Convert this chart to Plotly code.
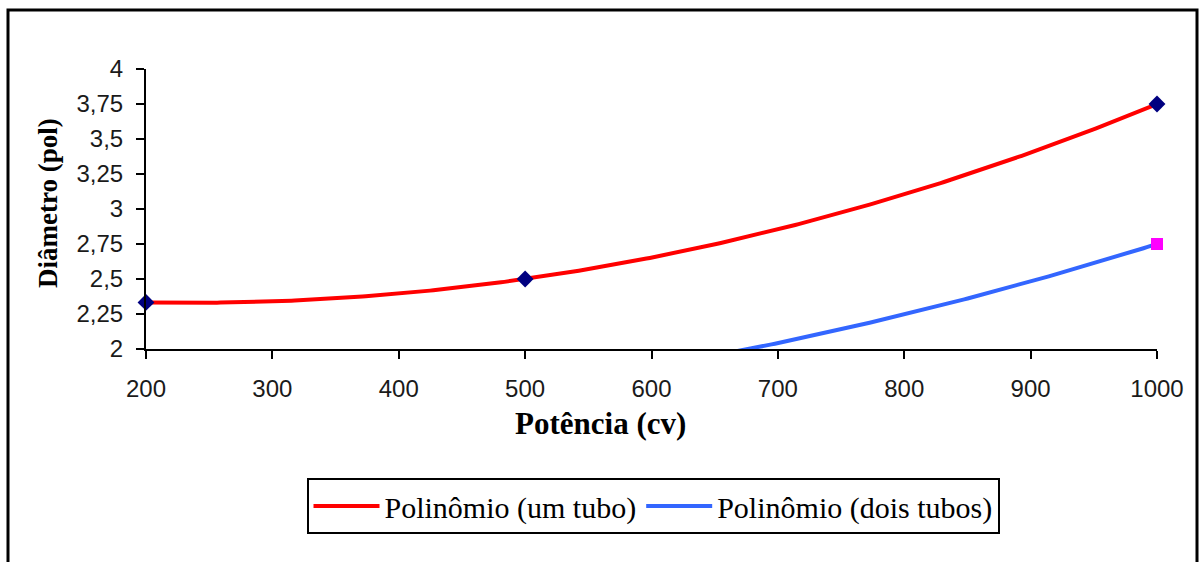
import numpy as np
import plotly.graph_objects as go

# --- data ---
potencia = [200, 500, 1000]
diam_um_tubo = [2.333, 2.5, 3.75]
diam_dois_tubos = [1.5, 1.73, 2.75]

x_ticks = [200, 300, 400, 500, 600, 700, 800, 900, 1000]
x_ticktext = ["200", "300", "400", "500", "600", "700", "800", "900", "1000"]
y_ticks = [2, 2.25, 2.5, 2.75, 3, 3.25, 3.5, 3.75, 4]
y_ticktext = ["2", "2,25", "2,5", "2,75", "3", "3,25", "3,5", "3,75", "4"]
y_min, y_max = 2, 4

# polynomial (2nd order) trendlines, as in the original spreadsheet chart
xs = np.linspace(min(potencia), max(potencia), 300)
p1 = np.polyfit(potencia, diam_um_tubo, 2)
p2 = np.polyfit(potencia, diam_dois_tubos, 2)

def visible(xv, yv):
    pts = [(a, b) for a, b in zip(xv, yv) if y_min <= b <= y_max]
    return [a for a, _ in pts], [b for _, b in pts]

fig = go.Figure()
fig.add_trace(go.Scatter(x=xs, y=np.polyval(p1, xs), mode="lines",
                         line=dict(color="#FF0000", width=4),
                         name="Polinômio (um tubo)"))
fig.add_trace(go.Scatter(x=xs, y=np.polyval(p2, xs), mode="lines",
                         line=dict(color="#3366FF", width=4),
                         name="Polinômio (dois tubos)"))
mx1, my1 = visible(potencia, diam_um_tubo)
mx2, my2 = visible(potencia, diam_dois_tubos)
fig.add_trace(go.Scatter(x=mx1, y=my1, mode="markers", cliponaxis=False,
                         marker=dict(symbol="diamond", color="#000080", size=13),
                         showlegend=False))
fig.add_trace(go.Scatter(x=mx2, y=my2, mode="markers", cliponaxis=False,
                         marker=dict(symbol="square", color="#FF00FF", size=12),
                         showlegend=False))

L, R, T, B = 146, 42, 69, 213
W, H = 1199, 562
pw, ph = W - L - R, H - T - B

def px(x):
    return (x - L) / pw

def py(y):
    return (H - B - y) / ph

tick_font = dict(family="Liberation Sans", size=24, color="#1a1a1a")
serif = "Liberation Serif"

fig.update_layout(
    width=W, height=H,
    margin=dict(l=L, r=R, t=T, b=B),
    paper_bgcolor="white", plot_bgcolor="white",
    showlegend=True,
    legend=dict(orientation="h", x=px(653), y=py(478), xanchor="center", yanchor="top",
                bordercolor="black", borderwidth=2, bgcolor="white",
                font=dict(family=serif, size=30, color="black"),
                itemwidth=66, tracegroupgap=0),
    xaxis=dict(range=[200, 1000], tickvals=x_ticks, ticktext=x_ticktext,
               showgrid=False, zeroline=False, showline=True, linecolor="black", linewidth=2,
               ticks="outside", ticklen=8, tickwidth=2, tickcolor="black",
               tickfont=tick_font, ticklabelstandoff=9),
    yaxis=dict(range=[y_min, y_max], tickvals=y_ticks, ticktext=y_ticktext,
               showgrid=False, zeroline=False, showline=True, linecolor="black", linewidth=2,
               ticks="outside", ticklen=8, tickwidth=2, tickcolor="black",
               tickfont=tick_font, ticklabelstandoff=8),
    annotations=[
        dict(text="<b>Potência (cv)</b>", xref="paper", yref="paper",
             x=px(600), y=py(423), xanchor="center", yanchor="middle", showarrow=False,
             font=dict(family=serif, size=31, color="black")),
        dict(text="<b>Diâmetro (pol)</b>", xref="paper", yref="paper", textangle=-90,
             x=px(48), y=py(203), xanchor="center", yanchor="middle", showarrow=False,
             font=dict(family=serif, size=27, color="black")),
    ],
    shapes=[
        dict(type="rect", xref="paper", yref="paper",
             x0=px(8), x1=px(1197), y0=py(600), y1=py(10),
             line=dict(color="black", width=3), fillcolor="rgba(0,0,0,0)", layer="below"),
    ],
)

fig.write_html("out.html")
